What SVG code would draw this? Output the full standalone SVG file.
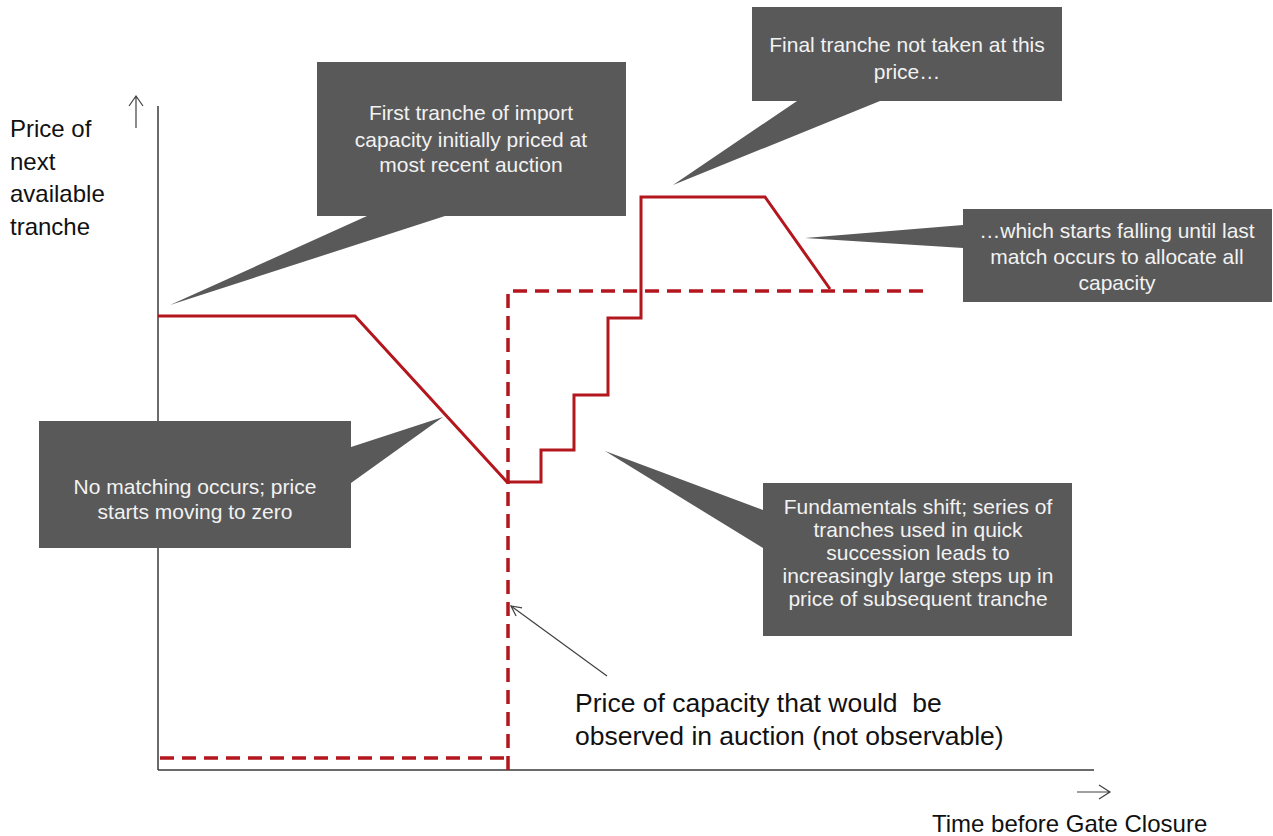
<svg xmlns="http://www.w3.org/2000/svg" width="1273" height="836" viewBox="0 0 1273 836">
<style>
.axis{stroke:#3a3a3a;stroke-width:1.5;fill:none}
.thin{stroke:#404040;stroke-width:1.2;fill:none}
.solid{stroke:#b3161c;stroke-width:3;fill:none;stroke-linejoin:miter}
.dash{stroke:#b3161c;stroke-width:3.5;fill:none;stroke-dasharray:14 8}
.box{fill:#595959}
.ct{font-family:"Liberation Sans",Arial,sans-serif;font-size:21px;fill:#f2f2f2;text-anchor:middle}
.lab{font-family:"Liberation Sans",Arial,sans-serif;font-size:24px;fill:#111}
.note{font-family:"Liberation Sans",Arial,sans-serif;font-size:26.5px;fill:#111;white-space:pre}
</style>
<defs>
<marker id="open" viewBox="0 0 12 12" refX="11" refY="6" markerWidth="12" markerHeight="12" markerUnits="userSpaceOnUse" orient="auto">
<path d="M1,1 L11,6 L1,11" fill="none" stroke="#404040" stroke-width="1.2"/>
</marker>
</defs>
<rect width="1273" height="836" fill="#fff"/>
<g id="axes">
<line class="axis" x1="158" y1="106" x2="158" y2="770"/>
<line class="axis" x1="158" y1="770" x2="1094" y2="770"/>
<path class="thin" d="M136,128 V96 M129,106 L136,96 L143,106"/>
<path class="thin" d="M1077,792 H1110 M1099,785 L1110,792 L1099,799"/>
<text class="lab" x="10" y="137">Price of</text>
<text class="lab" x="10" y="170">next</text>
<text class="lab" x="10" y="202">available</text>
<text class="lab" x="10" y="235">tranche</text>
<text class="lab" x="932" y="832">Time before Gate Closure</text>
</g>
<g id="series">
<path class="solid" d="M158,316 H355 L507,482 H541 V450 H574 V395 H608 V318 H641 V197 H765 L830,289"/>
<path class="dash" d="M160,758 H508 V770 M508,770 V291 H930"/>
</g>
<g id="connectors">
<line class="thin" x1="607" y1="676" x2="511" y2="606" marker-end="url(#open)"/>
</g>
<g id="note-observed">
<text class="note" x="575" y="712" xml:space="preserve">Price of capacity that would  be</text>
<text class="note" x="575" y="745">observed in auction (not observable)</text>
</g>
<g id="callout-first">
<path class="box" d="M317,62 H626 V216 H445 L170,305 L367,216 H317 Z"/>
<text class="ct" x="471" y="120">First tranche of import</text>
<text class="ct" x="471" y="147">capacity initially priced at</text>
<text class="ct" x="471" y="172">most recent auction</text>
</g>
<g id="callout-final">
<path class="box" d="M752,7 H1062 V101 H880 L673,185 L797,101 H752 Z"/>
<text class="ct" x="907" y="52">Final tranche not taken at this</text>
<text class="ct" x="907" y="79">price…</text>
</g>
<g id="callout-falling">
<path class="box" d="M963,209 H1272 V302 H963 V248 L805,238 L963,225 Z"/>
<text class="ct" x="1117" y="238">…which starts falling until last</text>
<text class="ct" x="1117" y="264">match occurs to allocate all</text>
<text class="ct" x="1117" y="290">capacity</text>
</g>
<g id="callout-nomatch">
<path class="box" d="M39,421 H351 V447 L443,417 L351,483 V548 H39 Z"/>
<text class="ct" x="195" y="494">No matching occurs; price</text>
<text class="ct" x="195" y="519">starts moving to zero</text>
</g>
<g id="callout-shift">
<path class="box" d="M763,483 H1072 V636 H763 V548 L605,451 L763,510 Z"/>
<text class="ct" x="918" y="514">Fundamentals shift; series of</text>
<text class="ct" x="918" y="537">tranches used in quick</text>
<text class="ct" x="918" y="560">succession leads to</text>
<text class="ct" x="918" y="583">increasingly large steps up in</text>
<text class="ct" x="918" y="606">price of subsequent tranche</text>
</g>
</svg>
